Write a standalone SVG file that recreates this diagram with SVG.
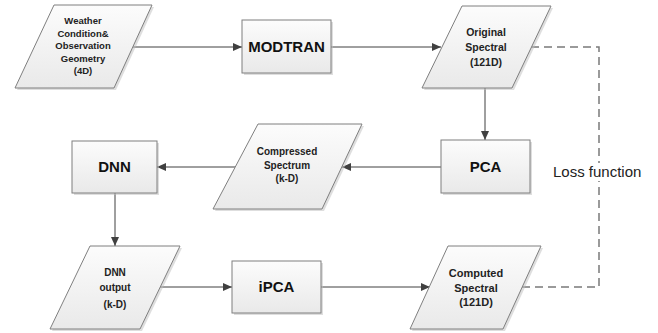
<svg xmlns="http://www.w3.org/2000/svg" width="658" height="333" viewBox="0 0 658 333">
<defs>
<linearGradient id="g" x1="0" y1="0" x2="0" y2="1">
<stop offset="0" stop-color="#fcfcfc"/>
<stop offset="1" stop-color="#e9e9e9"/>
</linearGradient>
<marker id="ah" markerWidth="9" markerHeight="8" refX="9" refY="4" orient="auto" markerUnits="userSpaceOnUse">
<path d="M0,0 L9,4 L0,8 Z" fill="#404040"/>
</marker>
<style>
.sh{fill:#bdbdbd;opacity:0.5}
.nd{fill:url(#g);stroke:#7f7f7f;stroke-width:1}
.big{font-family:"Liberation Sans",Arial,sans-serif;font-weight:bold;font-size:15px;fill:#111;text-anchor:middle}
.sm{font-family:"Liberation Sans",Arial,sans-serif;font-weight:bold;fill:#222;text-anchor:middle}
.ln{fill:none;stroke:#404040;stroke-width:1}
.dash{fill:none;stroke:#7a7a7a;stroke-width:1.5;stroke-dasharray:8,5}
.lbl{font-family:"Liberation Sans",Arial,sans-serif;font-size:15px;fill:#222}
</style>
</defs>
<rect width="658" height="333" fill="#ffffff"/>

<g id="connectors">
<line class="ln" x1="133" y1="47" x2="242" y2="47" marker-end="url(#ah)"/>
<line class="ln" x1="331" y1="47" x2="441" y2="47" marker-end="url(#ah)"/>
<line class="ln" x1="485" y1="88" x2="485" y2="140" marker-end="url(#ah)"/>
<line class="ln" x1="441" y1="167" x2="342" y2="167" marker-end="url(#ah)"/>
<line class="ln" x1="235" y1="167" x2="157" y2="167" marker-end="url(#ah)"/>
<line class="ln" x1="115" y1="193" x2="115" y2="246" marker-end="url(#ah)"/>
<line class="ln" x1="160" y1="287" x2="232" y2="287" marker-end="url(#ah)"/>
<line class="ln" x1="321" y1="287" x2="430" y2="287" marker-end="url(#ah)"/>
<path class="dash" d="M531,47 H599 V287 H522"/>
</g>

<g id="loss-label">
<rect x="552" y="163" width="92" height="18" fill="#ffffff"/>
<text class="lbl" x="553" y="177">Loss function</text>
</g>

<g id="weather">
<polygon class="sh" points="56,7 154,7 116,90 17,90"/>
<polygon class="nd" points="54,5 152,5 114,88 15,88"/>
<text class="sm" font-size="9.5" x="83" y="24">Weather</text>
<text class="sm" font-size="9.5" x="83" y="36.5">Condition&amp;</text>
<text class="sm" font-size="9.5" x="83" y="49">Observation</text>
<text class="sm" font-size="9.5" x="83" y="61.5">Geometry</text>
<text class="sm" font-size="9.5" x="83" y="74">(4D)</text>
</g>

<g id="modtran">
<rect class="sh" x="244" y="22" width="89" height="53"/>
<rect class="nd" x="242" y="20" width="89" height="53"/>
<text class="big" x="286.5" y="52">MODTRAN</text>
</g>

<g id="original">
<polygon class="sh" points="464,8 553,8 514,90 424,90"/>
<polygon class="nd" points="462,6 551,6 512,88 422,88"/>
<text class="sm" font-size="10.5" x="486" y="36">Original</text>
<text class="sm" font-size="10.5" x="486" y="51">Spectral</text>
<text class="sm" font-size="10.5" x="486" y="66">(121D)</text>
</g>

<g id="pca">
<rect class="sh" x="443" y="142" width="89" height="53"/>
<rect class="nd" x="441" y="140" width="89" height="53"/>
<text class="big" x="485.5" y="172">PCA</text>
</g>

<g id="compressed">
<polygon class="sh" points="260,126 364,126 324,211 215,211"/>
<polygon class="nd" points="258,124 362,124 322,209 213,209"/>
<text class="sm" font-size="10" x="287" y="155">Compressed</text>
<text class="sm" font-size="10" x="287" y="168.5">Spectrum</text>
<text class="sm" font-size="10" x="287" y="182">(k-D)</text>
</g>

<g id="dnn">
<rect class="sh" x="74" y="143" width="85" height="52"/>
<rect class="nd" x="72" y="141" width="85" height="52"/>
<text class="big" x="114.5" y="172">DNN</text>
</g>

<g id="dnn-output">
<polygon class="sh" points="92,248 182,248 142,331 52,331"/>
<polygon class="nd" points="90,246 180,246 140,329 50,329"/>
<text class="sm" font-size="10" x="115" y="276">DNN</text>
<text class="sm" font-size="10" x="115" y="291">output</text>
<text class="sm" font-size="10" x="115" y="308">(k-D)</text>
</g>

<g id="ipca">
<rect class="sh" x="234" y="263" width="89" height="52"/>
<rect class="nd" x="232" y="261" width="89" height="52"/>
<text class="big" x="276.5" y="292">iPCA</text>
</g>

<g id="computed">
<polygon class="sh" points="450,248 543,248 505,331 412,331"/>
<polygon class="nd" points="448,246 541,246 503,329 410,329"/>
<text class="sm" font-size="11" x="476" y="277">Computed</text>
<text class="sm" font-size="11" x="476" y="291.5">Spectral</text>
<text class="sm" font-size="11" x="476" y="306">(121D)</text>
</g>
</svg>
